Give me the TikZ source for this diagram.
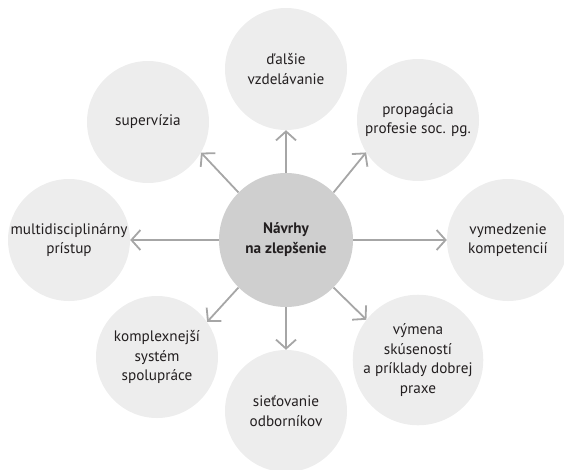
\documentclass[tikz,border=0pt]{standalone}
\usepackage{fontspec}
\setmainfont{PT Sans}
\usetikzlibrary{arrows.meta}
\definecolor{outerfill}{HTML}{EDEDED}
\definecolor{centerfill}{HTML}{CFCFCF}
\definecolor{arrowcol}{HTML}{A6A6A6}
\definecolor{textcol}{HTML}{231F20}
\tikzset{
  outer/.style={circle, fill=outerfill, minimum size=122pt, inner sep=0pt, align=center, text=textcol, font=\fontsize{15.2}{19.5}\selectfont},
  hub/.style={circle, fill=centerfill, minimum size=134pt, inner sep=0pt, align=center, text=textcol, font=\fontsize{15.2}{20}\selectfont\bfseries},
  link/.style={draw=arrowcol, line width=1.8pt, -{Straight Barb[length=9pt,width=20pt,line width=1.8pt]}}
}
\begin{document}
\begin{tikzpicture}[x=1pt,y=-1pt]
\useasboundingbox (0,0) rectangle (564,469);
\begin{scope}
\clip (0,0) rectangle (564,469);
\node[hub] (c) at (286,240) {Návrhy\\na zlepšenie};
\node[outer] (dal) at (286,69) {ďalšie\\vzdelávanie};
\node[outer] (sup) at (148,122) {supervízia};
\node[outer] (pro) at (418,120) {propagácia\\profesie soc. pg.};
\node[outer] (mul) at (69,240) {multidisciplinárny\\prístup};
\node[outer] (vym) at (508,240) {vymedzenie\\kompetencií};
\node[outer] (kom) at (157,357) {komplexnejší\\systém\\spolupráce};
\node[outer] (sie) at (286,411) {sieťovanie\\odborníkov};
\node[outer] (vyp) at (418,360) {výmena\\skúseností\\a príklady dobrej\\praxe};
\end{scope}
\draw[link] (c.north) -- (dal.south);
\draw[link] (c.135) -- (sup.-30);
\draw[link] (c.45) -- (pro.212);
\draw[link] (c.west) -- (mul.east);
\draw[link] (c.east) -- (vym.west);
\draw[link] (c.-135) -- (kom.35);
\draw[link] (c.south) -- (sie.north);
\draw[link] (c.-45) -- (vyp.142);
\end{tikzpicture}
\end{document}
